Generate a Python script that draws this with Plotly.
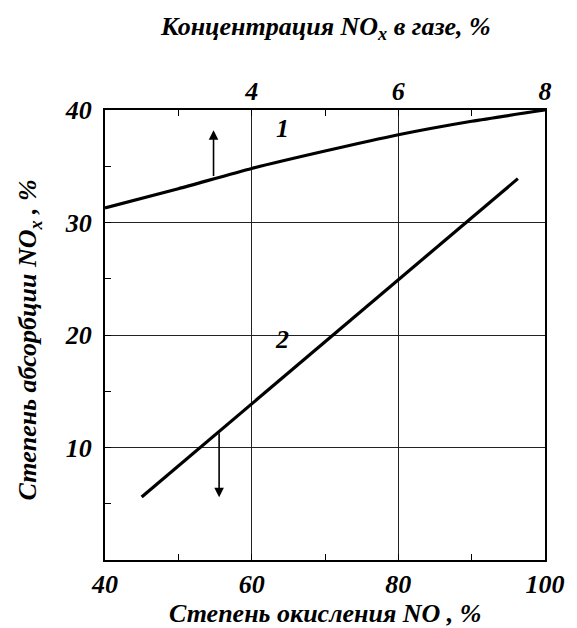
import plotly.graph_objects as go

# Curve 1: absorption degree vs NOx concentration in gas (top axis, %)
conc_nox = [2, 3, 4, 5, 6, 7, 8]
absorb_1 = [31.3, 33.0, 34.8, 36.35, 37.8, 39.0, 40.0]

# Curve 2: absorption degree vs NO oxidation degree (bottom axis, %)
oxid_no = [45, 60, 71.1, 96.3]
absorb_2 = [5.6, 13.9, 20.0, 33.9]

x_ticks = [40, 60, 80, 100]
x_minor = [50, 70, 90]
x2_ticks = [4, 6, 8]
x2_minor = [3, 5, 7]
y_ticks = [10, 20, 30, 40]
y_minor = [5, 15, 25, 35]

FONT = "Liberation Serif, Times New Roman, serif"
tick_font = dict(family=FONT, size=26, color="black", weight="bold", style="italic")
title_font = dict(family=FONT, size=26, color="black", weight="bold", style="italic")

fig = go.Figure()
fig.add_trace(go.Scatter(x=conc_nox, y=absorb_1, xaxis="x2", yaxis="y", mode="lines",
                         line=dict(color="black", width=3.2, shape="spline", smoothing=0.6),
                         showlegend=False, hoverinfo="skip"))
fig.add_trace(go.Scatter(x=oxid_no, y=absorb_2, xaxis="x", yaxis="y", mode="lines",
                         line=dict(color="black", width=3.2),
                         showlegend=False, hoverinfo="skip"))

common = dict(showline=True, linecolor="black", linewidth=2, mirror=True,
              showgrid=True, gridcolor="#222", gridwidth=1, zeroline=False,
              ticks="inside", ticklen=6, tickcolor="black", tickwidth=1,
              tickfont=tick_font, tickmode="array")

fig.update_layout(
    width=577, height=628,
    margin=dict(l=105, r=22, t=110, b=68),
    paper_bgcolor="white", plot_bgcolor="white",
    xaxis=dict(range=[40, 100], tickvals=x_ticks,
               minor=dict(tickmode="array", tickvals=x_minor, ticks="inside", ticklen=6,
                          tickcolor="black", showgrid=False),
               ticklabelstandoff=0, **common),
    xaxis2=dict(range=[2, 8], overlaying="x", side="top", anchor="y",
                tickmode="array", tickvals=x2_ticks, showgrid=False, showline=False,
                zeroline=False, ticks="inside", ticklen=6, tickcolor="black",
                minor=dict(tickmode="array", tickvals=x2_minor, ticks="inside", ticklen=6,
                           tickcolor="black", showgrid=False),
                tickfont=tick_font, ticklabelstandoff=4),
    yaxis=dict(range=[0, 40], tickvals=y_ticks,
               minor=dict(tickmode="array", tickvals=y_minor, ticks="inside", ticklen=6,
                          tickcolor="black", showgrid=False),
               ticklabelstandoff=6, **common),
)

# Axis titles
fig.add_annotation(text="Концентрация NO<sub>x</sub> в газе, %", xref="paper", yref="paper",
                   x=0.5, y=1.182, xanchor="center", yanchor="middle", showarrow=False,
                   font=title_font)
fig.add_annotation(text="Степень окисления NO , %", xref="paper", yref="paper",
                   x=0.5, y=-0.119, xanchor="center", yanchor="middle", showarrow=False,
                   font=title_font)
fig.add_annotation(text="Степень абсорбции NO<sub>x</sub> , %", xref="paper", yref="paper",
                   x=-0.173, y=0.49, xanchor="center", yanchor="middle", showarrow=False,
                   textangle=-90, font=title_font)

# Curve numbers
fig.add_annotation(text="1", x=64.2, y=38.4, xref="x", yref="y", showarrow=False,
                   font=title_font)
fig.add_annotation(text="2", x=64.2, y=19.6, xref="x", yref="y", showarrow=False,
                   font=title_font)

# Arrows pointing to the axis each curve belongs to
fig.add_annotation(x=3.48, y=38.2, ax=3.48, ay=34.0, xref="x2", yref="y",
                   axref="x2", ayref="y", text="", showarrow=True,
                   arrowhead=2, arrowsize=1.2, arrowwidth=1.6, arrowcolor="black")
fig.add_annotation(x=55.56, y=5.57, ax=55.56, ay=11.4, xref="x", yref="y",
                   axref="x", ayref="y", text="", showarrow=True,
                   arrowhead=2, arrowsize=1.2, arrowwidth=1.6, arrowcolor="black")

fig.write_html("out.html")
